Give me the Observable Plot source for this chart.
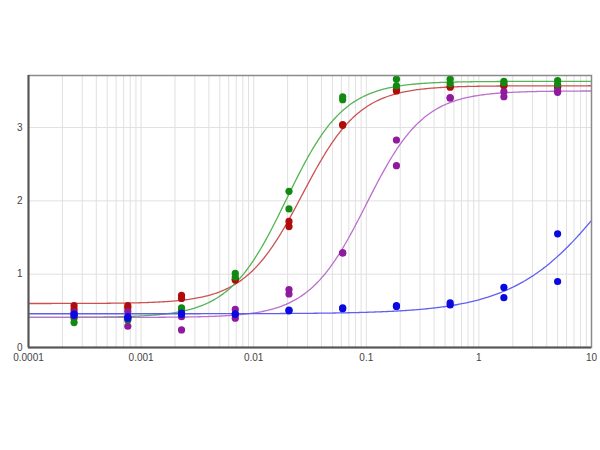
<!DOCTYPE html>
<html>
<head>
<meta charset="utf-8">
<script src="https://cdn.jsdelivr.net/npm/d3@7"></script>
<script src="https://cdn.jsdelivr.net/npm/@observablehq/plot@0.6"></script>
<style>
  html, body { margin: 0; padding: 0; background: #fff; }
  #chart { width: 600px; height: 450px; }
</style>
</head>
<body>
<div id="chart"></div>
<script>
// Concentrations (3-fold dilutions)
const conc = [0.000254, 0.000762, 0.002286, 0.00686, 0.02058, 0.0617, 0.1852, 0.5556, 1.6667, 5];

// Replicate readings per series
const greenA  = [0.34, 0.37, 0.54, 1.01, 2.13, 3.42, 3.66, 3.66, 3.63, 3.64];
const greenB  = [0.40, 0.40, 0.50, 0.96, 1.89, 3.38, 3.57, 3.60, 3.61, 3.59];
const redA    = [0.57, 0.57, 0.71, 0.92, 1.72, 3.04, 3.50, 3.56, 3.58, 3.56];
const redB    = [0.52, 0.54, 0.67, 0.93, 1.65, 3.03, 3.52, 3.55, 3.57, 3.55];
const purpleA = [0.48, 0.49, 0.42, 0.52, 0.79, 1.29, 2.83, 3.41, 3.49, 3.50];
const purpleB = [0.43, 0.29, 0.24, 0.40, 0.73, 1.29, 2.48, 3.40, 3.42, 3.48];
const blueA   = [0.46, 0.40, 0.47, 0.45, 0.50, 0.54, 0.57, 0.61, 0.82, 1.55];
const blueB   = [0.44, 0.42, 0.45, 0.46, 0.51, 0.53, 0.56, 0.58, 0.68, 0.90];

// Four-parameter logistic fit parameters
const seriesNames = ["red", "green", "purple", "blue"];
const fitBottom = [0.60, 0.41, 0.41, 0.46];
const fitTop    = [3.57, 3.63, 3.50, 3.90];
const fitEC50   = [0.027, 0.0195, 0.10, 17];
const fitHill   = [1.7, 1.7, 1.7, 1.0];

const dotColors  = ["#b00c0c", "#118a11", "#8e1a9e", "#0a0ae0"];
const lineColors = ["#cc5252", "#55b455", "#bb70cc", "#6060f0"];

const xTickValues = [0.0001, 0.001, 0.01, 0.1, 1, 10];
const xTickLabels = ["0.0001", "0.001", "0.01", "0.1", "1", "10"];
const yTickValues = [0, 1, 2, 3];

// Build tables
const reps = {
  red: [redA, redB], green: [greenA, greenB],
  purple: [purpleA, purpleB], blue: [blueA, blueB]
};
const points = [];
seriesNames.forEach((s) => {
  reps[s].forEach((arr) => arr.forEach((v, i) => points.push({series: s, x: conc[i], y: v})));
});

const xs = d3.range(0, 401).map(i => Math.pow(10, -4 + 5 * i / 400));
const curves = [];
seriesNames.forEach((s, k) => {
  xs.forEach(x => {
    const y = fitBottom[k] + (fitTop[k] - fitBottom[k]) / (1 + Math.pow(fitEC50[k] / x, fitHill[k]));
    curves.push({series: s, x, y});
  });
});

const minorTicks = d3.scaleLog().domain([1e-4, 10]).ticks();

const chart = Plot.plot({
  width: 600,
  height: 450,
  marginLeft: 28,
  marginRight: 9,
  marginTop: 75,
  marginBottom: 103,
  style: {fontFamily: "'Liberation Sans', Arial, sans-serif", fontSize: "10px", color: "#444", background: "#fff"},
  x: {type: "log", domain: [1e-4, 10]},
  y: {domain: [0, 3.71]},
  marks: [
    Plot.ruleX(minorTicks, {stroke: "#e0e0e0", strokeWidth: 1}),
    Plot.ruleY([1, 2, 3], {stroke: "#e0e0e0", strokeWidth: 1}),
    Plot.line(curves, {x: "x", y: "y", z: "series",
      stroke: d => lineColors[seriesNames.indexOf(d.series)], strokeWidth: 1.3}),
    Plot.dot(points, {x: "x", y: "y", fill: d => dotColors[seriesNames.indexOf(d.series)], r: 3.6, stroke: "none"}),
    Plot.frame({stroke: "#8a8a8a", strokeWidth: 1.5}),
    Plot.ruleX([1e-4], {stroke: "#555", strokeWidth: 2}),
    Plot.ruleY([0], {stroke: "#555", strokeWidth: 2}),
    Plot.axisX(xTickValues, {tickSize: 0, tickPadding: 6, label: null,
      tickFormat: d => xTickLabels[xTickValues.indexOf(d)], fill: "#444"}),
    Plot.axisY(yTickValues, {tickSize: 0, tickPadding: 6, label: null,
      tickFormat: d => String(d), fill: "#444"})
  ]
});
document.getElementById("chart").appendChild(chart);
</script>
</body>
</html>
